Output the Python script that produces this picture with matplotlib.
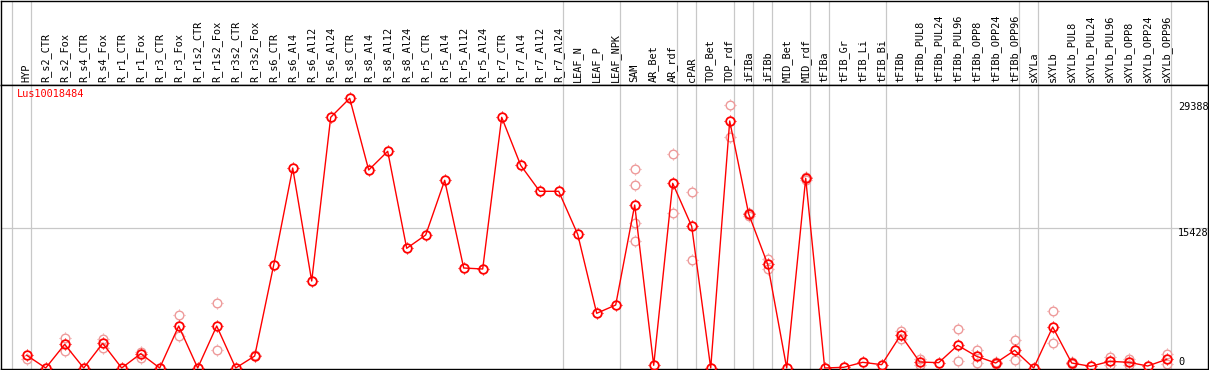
import matplotlib
matplotlib.use("Agg")
import matplotlib.pyplot as plt
from matplotlib.path import Path

plt.rcParams['font.family'] = ['DejaVu Sans Mono']

gene = "Lus10018484"

categories = [
    "HYP", "R_s2_CTR", "R_s2_Fox", "R_s4_CTR", "R_s4_Fox", "R_r1_CTR", "R_r1_Fox",
    "R_r3_CTR", "R_r3_Fox", "R_r1s2_CTR", "R_r1s2_Fox", "R_r3s2_CTR", "R_r3s2_Fox",
    "R_s6_CTR", "R_s6_Al4", "R_s6_Al12", "R_s6_Al24", "R_s8_CTR", "R_s8_Al4",
    "R_s8_Al12", "R_s8_Al24", "R_r5_CTR", "R_r5_Al4", "R_r5_Al12", "R_r5_Al24",
    "R_r7_CTR", "R_r7_Al4", "R_r7_Al12", "R_r7_Al24", "LEAF_N", "LEAF_P", "LEAF_NPK",
    "SAM", "AR_Bet", "AR_rdf", "cPAR", "TOP_Bet", "TOP_rdf", "iFIBa", "iFIBb",
    "MID_Bet", "MID_rdf", "tFIBa", "tFIB_Gr", "tFIB_Li", "tFIB_Bi", "tFIBb",
    "tFIBb_PUL8", "tFIBb_PUL24", "tFIBb_PUL96", "tFIBb_OPP8", "tFIBb_OPP24",
    "tFIBb_OPP96", "sXYLa", "sXYLb", "sXYLb_PUL8", "sXYLb_PUL24", "sXYLb_PUL96",
    "sXYLb_OPP8", "sXYLb_OPP24", "sXYLb_OPP96",
]

means = [
    1403, 0, 2614, 0, 2724, 0, 1583, 0, 4638, 0, 4638, 0, 1325,
    11375, 22088, 9608, 27688, 29785, 21867, 23932, 13219, 14689, 20729, 11044, 10934,
    27688, 22386, 19515, 19515, 14766, 6041, 6958,
    18002, 298, 20398, 15649, 0, 27279, 17008, 11452, 0, 20950, 0,
    77, 629, 368, 3645, 663, 589, 2507, 1288, 552, 1950, 0,
    4528, 552, 184, 736, 629, 221, 957,
]

replicates = [
    [1030], [], [3276, 1877], [], [3203, 2209], [], [1803, 1141], [], [5817, 3534],
    [], [7143, 1950], [], [1400],
    [], [], [], [], [], [], [], [], [], [], [], [],
    [], [], [], [], [], [], [],
    [21941, 20174, 16049, 13993], [], [23601, 17118], [19404, 11894], [],
    [29013, 25512], [17150, 16787], [12005, 10967], [], [21127, 20763], [],
    [], [], [], [4086, 3166], [957, 298], [], [4307, 736], [1950, 515], [700, 400],
    [3056, 846], [], [6258, 2724], [650, 450], [], [1251, 331], [957, 298], [],
    [1583, 405],
]

# group separators are drawn just after these category indices
separators = [-1, 0, 28, 31, 34, 35, 37, 38, 39, 41, 42, 45, 52, 53, 60]
y_ticks = [29388, 15428, 0]

# little tick stubs around each circle
stubs = Path([(0, 0.8), (0, 1), (0, -0.8), (0, -1), (0.8, 0), (1, 0), (-0.8, 0), (-1, 0)],
             [Path.MOVETO, Path.LINETO] * 4)

W, H = 1209, 370
fig = plt.figure(figsize=(W / 100, H / 100), dpi=100)
ax_lab = fig.add_axes([1 / W, (H - 85) / H, 1207 / W, 84.5 / H])
ax = fig.add_axes([1 / W, 1 / H, 1207 / W, 284 / H], sharex=ax_lab)

xlim = (-1.3526, 62.174)
ylim = (-110, 31255)
grey = '#c8c8c8'

for a in (ax_lab, ax):
    for s in separators:
        a.axvline(s + 0.21, color=grey, lw=0.9, zorder=0)
    for sp in a.spines.values():
        sp.set_color('black')
        sp.set_linewidth(1.0)
    a.tick_params(left=False, bottom=False, labelleft=False, labelbottom=False)

ax_lab.set_xlim(*xlim)
ax_lab.set_ylim(0, 1)
for i, c in enumerate(categories):
    ax_lab.text(i, 0.03, c, rotation=90, ha='center', va='bottom', fontsize=7.4)

ax.set_ylim(*ylim)
ax.axhline(15428, color=grey, lw=0.9, zorder=0)


def rings(xs, ys, color, mew, z):
    ax.plot(xs, ys, linestyle='none', marker='o', markersize=6.2, markerfacecolor='none',
            markeredgecolor=color, markeredgewidth=mew, zorder=z, clip_on=False)
    ax.plot(xs, ys, linestyle='none', marker=stubs, markersize=8.2, markerfacecolor='none',
            markeredgecolor=color, markeredgewidth=0.8, zorder=z, clip_on=False)


x = list(range(len(categories)))
for i, reps in enumerate(replicates):
    if reps:
        rings([i] * len(reps), reps, '#ee9a9a', 1.0, 2)
ax.plot(x, means, color='red', lw=1.0, zorder=3, clip_on=False)
rings(x, means, 'red', 1.3, 4)

ax.text(-0.52, 30300, gene, color='red', fontsize=7.4, ha='left', va='center')
xt = 60.59
ax.text(xt, y_ticks[0], str(y_ticks[0]), ha='left', va='top', fontsize=7.4)
ax.text(xt, y_ticks[1], str(y_ticks[1]), ha='left', va='top', fontsize=7.4)
ax.text(xt, y_ticks[2] + 150, str(y_ticks[2]), ha='left', va='bottom', fontsize=7.4)

fig.savefig('out.png', dpi=100)
